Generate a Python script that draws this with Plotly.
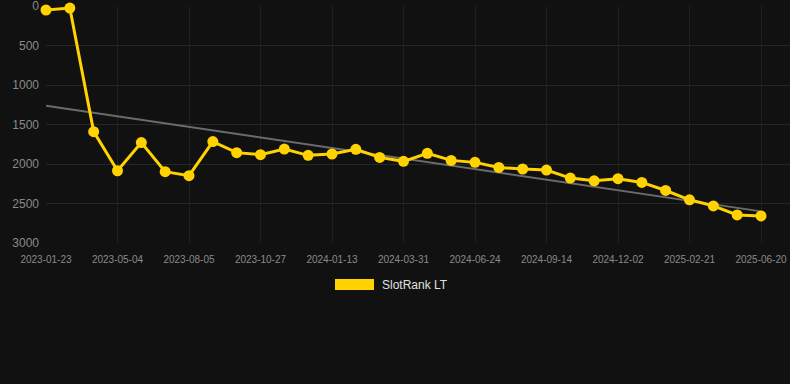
import numpy as np
import plotly.graph_objects as go

dates = [
    "2023-01-23", "2023-02-26", "2023-03-31", "2023-05-04", "2023-06-04", "2023-07-05",
    "2023-08-05", "2023-09-02", "2023-09-30", "2023-10-27", "2023-11-22", "2023-12-18",
    "2024-01-13", "2024-02-08", "2024-03-05", "2024-03-31", "2024-04-28", "2024-05-26",
    "2024-06-24", "2024-07-21", "2024-08-17", "2024-09-14", "2024-10-10", "2024-11-05",
    "2024-12-02", "2024-12-29", "2025-01-25", "2025-02-21", "2025-03-31", "2025-05-10",
    "2025-06-20",
]
rank = [
    50, 25, 1590, 2085, 1729, 2097, 2148, 1716, 1856, 1881, 1810, 1890,
    1873, 1814, 1916, 1966, 1865, 1954, 1979, 2043, 2063, 2076, 2178, 2212,
    2186, 2233, 2335, 2453, 2530, 2644, 2657,
]
series_name = "SlotRank LT"
y_ticks = [0, 500, 1000, 1500, 2000, 2500, 3000]

# linear trend (least squares over point index)
idx = np.arange(len(rank))
slope, intercept = np.polyfit(idx, rank, 1)
trend = [intercept + slope * i for i in (idx[0], idx[-1])]

W, H = 790, 384
L, R, T, B = 46, 0, 6, 141
pw, ph = W - L - R, H - T - B

YELLOW = "#FFD200"
BG = "#111111"

fig = go.Figure()
fig.add_trace(go.Scatter(
    x=dates, y=rank, mode="lines+markers", name=series_name,
    line=dict(color=YELLOW, width=3),
    marker=dict(color=YELLOW, size=11),
    cliponaxis=False, showlegend=False,
))
fig.add_trace(go.Scatter(
    x=[dates[0], dates[-1]], y=trend, mode="lines",
    line=dict(color="#6b6b6b", width=2), hoverinfo="skip", showlegend=False,
))
# keep the trend line under the series
fig.data = (fig.data[1], fig.data[0])

# legend drawn manually (wide swatch)
def px_x(p):
    return (p - L) / pw

def px_y(p):
    return (H - B - p) / ph

fig.add_shape(type="rect", xref="paper", yref="paper",
              x0=px_x(335), x1=px_x(374), y0=px_y(290), y1=px_y(279),
              fillcolor=YELLOW, line=dict(width=0))
fig.add_annotation(xref="paper", yref="paper", x=px_x(380), y=px_y(285),
                   text=series_name, showarrow=False, xanchor="left", yanchor="middle",
                   font=dict(size=12, color="#e0e0e0"))

fig.update_layout(
    width=W, height=H,
    margin=dict(l=L, r=R, t=T, b=B),
    paper_bgcolor=BG, plot_bgcolor=BG,
    font=dict(family="Liberation Sans, Arial, sans-serif", color="#8a8a8a"),
    showlegend=False,
)
fig.update_xaxes(
    type="category", categoryorder="array", categoryarray=dates,
    range=[0, (W - L - R) / (715 / 30)],
    tick0=0, dtick=3, showgrid=True, gridcolor="#1f1f1f", gridwidth=1,
    zeroline=False, showline=False, ticks="", tickfont=dict(size=10, color="#8a8a8a"),
    tickangle=0, ticklabelstandoff=9, ticklabeloverflow="allow",
)
fig.update_yaxes(
    range=[3000, -1], tickvals=y_ticks, showgrid=True, gridcolor="#262626", gridwidth=1,
    zeroline=False, showline=False, ticks="", tickfont=dict(size=12, color="#8a8a8a"),
    ticklabelstandoff=6, ticklabeloverflow="allow",
)

fig.write_html(
    "out.html",
    config={"displayModeBar": False},
    post_script="document.body.style.margin='0';document.body.style.overflow='hidden';",
)
